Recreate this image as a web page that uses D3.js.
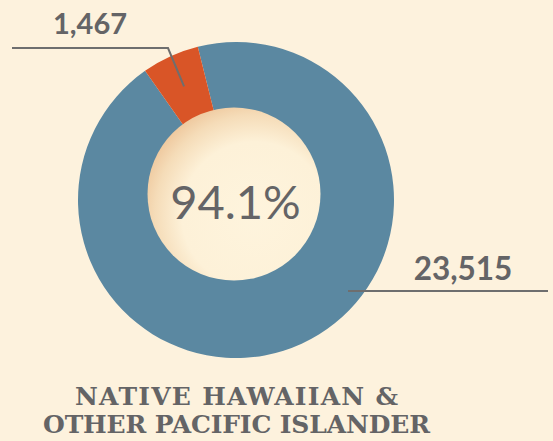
<!DOCTYPE html>
<html>
<head>
<meta charset="utf-8">
<script src="https://cdnjs.cloudflare.com/ajax/libs/d3/7.8.5/d3.min.js"></script>
<style>
  body { margin: 0; background: #fdf2dd; }
  svg { display: block; }
</style>
</head>
<body>
<div id="donut"></div>
<script>
// Data
var categories = ["Alone", "In combination"];
var values = [23515, 1467];
var valueLabels = ["23,515", "1,467"];
var titleLines = ["NATIVE HAWAIIAN &", "OTHER PACIFIC ISLANDER"];

var svgWidth = 553;
var svgHeight = 441;

var colors = d3.scaleOrdinal()
    .domain(categories)
    .range(["#5b88a1", "#d95527"]);

var svg = d3.select("#donut")
    .append("svg")
    .attr("width", svgWidth)
    .attr("height", svgHeight);

svg.append("rect")
    .attr("width", svgWidth)
    .attr("height", svgHeight)
    .attr("fill", "#fdf2dd");

// gradient for the centre disc
var defs = svg.append("defs");
var grad = defs.append("radialGradient")
    .attr("id", "hole")
    .attr("cx", "62%")
    .attr("cy", "62%")
    .attr("r", "68%");
grad.append("stop").attr("offset", "0%").attr("stop-color", "#fef4dd");
grad.append("stop").attr("offset", "62%").attr("stop-color", "#fdf1d8");
grad.append("stop").attr("offset", "85%").attr("stop-color", "#f5dcb8");
grad.append("stop").attr("offset", "100%").attr("stop-color", "#eec79c");

var cx = 236, cy = 200;
var outerR = 158;

var chartGroup = svg.append("g")
    .attr("transform", `translate(${cx}, ${cy})`);

// start the big slice a little left of 12 o'clock
var startA = -14 * Math.PI / 180;
var pie = d3.pie()
    .sort(null)
    .value(d => d)
    .startAngle(startA)
    .endAngle(startA + 2 * Math.PI);

var arcs = pie(values);

var arc = d3.arc()
    .innerRadius(70)
    .outerRadius(outerR);

chartGroup.selectAll(".slice")
    .data(arcs)
    .enter()
    .append("path")
    .attr("class", "slice")
    .attr("d", arc)
    .attr("fill", (d, i) => colors(categories[i]));

// centre disc, nudged up a bit
svg.append("circle")
    .attr("cx", 234)
    .attr("cy", 194)
    .attr("r", 86.5)
    .attr("fill", "url(#hole)");

var total = d3.sum(values);
svg.append("text")
    .attr("x", 235.5)
    .attr("y", 219)
    .attr("text-anchor", "middle")
    .attr("font-family", "Lato, sans-serif")
    .attr("font-size", "47px")
    .attr("fill", "#646466")
    .text(d3.format(".1f")(values[0] / total * 100) + "%");

// leader lines
var lineColor = "#6e6e6e";
var cSmall = d3.arc().innerRadius(125).outerRadius(125).centroid(arcs[1]);

svg.append("path")
    .attr("d", `M12,48 L168,48 L${cx + cSmall[0]},${cy + cSmall[1]}`)
    .attr("fill", "none")
    .attr("stroke", lineColor)
    .attr("stroke-width", 2);

svg.append("line")
    .attr("x1", 348).attr("y1", 291)
    .attr("x2", 548).attr("y2", 291)
    .attr("stroke", lineColor)
    .attr("stroke-width", 2.2);

// value labels
svg.append("text")
    .attr("x", 90)
    .attr("y", 34)
    .attr("text-anchor", "middle")
    .attr("font-family", "Lato, sans-serif")
    .attr("font-weight", "bold")
    .attr("font-size", "29px")
    .attr("fill", "#646466")
    .text(valueLabels[1]);

svg.append("text")
    .attr("x", 463)
    .attr("y", 280)
    .attr("text-anchor", "middle")
    .attr("font-family", "Lato, sans-serif")
    .attr("font-weight", "bold")
    .attr("font-size", "31.5px")
    .attr("fill", "#646466")
    .text(valueLabels[0]);

// title
var titleWidths = [323, 387];
svg.selectAll(".title")
    .data(titleLines)
    .enter()
    .append("text")
    .attr("class", "title")
    .attr("x", 236.5)
    .attr("y", (d, i) => 405 + i * 28)
    .attr("text-anchor", "middle")
    .attr("font-family", "'DejaVu Serif', serif")
    .attr("font-weight", "bold")
    .attr("font-size", "25px")
    .attr("textLength", (d, i) => titleWidths[i])
    .attr("lengthAdjust", "spacing")
    .attr("fill", "#646466")
    .text(d => d);
</script>
</body>
</html>
